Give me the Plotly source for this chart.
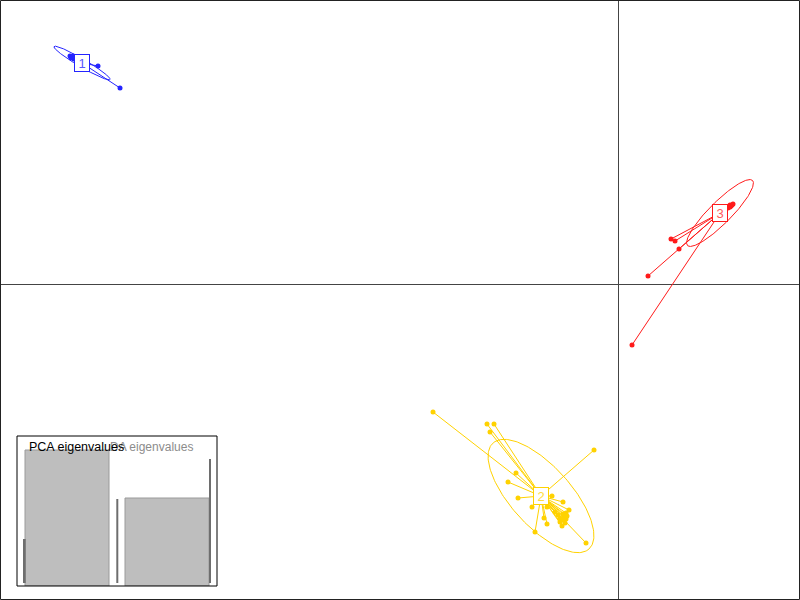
import numpy as np
import plotly.graph_objects as go

# ---- data (LD1, LD2) ----
groups = ["1", "2", "3"]
colors = ["#2424FF", "#FFD200", "#FF1A1A"]
label_colors = ["#5A5AFF", "#FFDC40", "#FF5A5A"]

centroid_x = [-10.72, -1.54, 2.04]
centroid_y = [4.42, -4.24, 1.42]

g1_x = [-10.96, -10.92, -10.88, -10.84, -10.94, -10.86, -10.80, -10.90, -10.40, -9.96]
g1_y = [4.56, 4.54, 4.50, 4.48, 4.52, 4.54, 4.46, 4.56, 4.36, 3.92]

g2_x = [-3.70, -2.62, -2.48, -2.56, -0.48, -2.04, -2.20, -2.00, -1.72, -1.32,
        -1.10, -0.98, -1.04, -1.48, -1.42, -1.12, -1.66, -0.64, -1.42, -1.20,
        -1.16, -1.12, -1.08, -1.04, -1.16, -1.06, -1.26, -1.02, -1.10]
g2_y = [-2.56, -2.80, -2.80, -2.96, -3.32, -3.78, -3.96, -4.28, -4.46, -4.24,
        -4.36, -4.52, -4.58, -4.68, -4.80, -4.84, -4.96, -5.18, -4.46, -4.62,
        -4.68, -4.72, -4.66, -4.70, -4.76, -4.78, -4.56, -4.64, -4.60]

g3_x = [2.24, 2.26, 2.22, 2.28, 2.20, 2.24, 2.30, 1.06, 1.14, 1.22, 0.60, 0.28]
g3_y = [1.58, 1.56, 1.54, 1.58, 1.52, 1.54, 1.60, 0.90, 0.86, 0.70, 0.16, -1.22]

# ellipse parameters: semi-major, semi-minor, angle (deg)
ell_a = [0.65, 1.43, 0.92]
ell_b = [0.08, 0.60, 0.22]
ell_angle = [-30.5, -47.8, 45.0]

# inset eigenvalues
da_eig = [272, 176]
pca_eig = [88, 168, 248]
pca_pos = [0.577, 1.503, 2.43]
pca_base = 6

pts_x = [g1_x, g2_x, g3_x]
pts_y = [g1_y, g2_y, g3_y]

fig = go.Figure()

t = np.linspace(0, 2 * np.pi, 200)
for i, g in enumerate(groups):
    cx, cy = centroid_x[i], centroid_y[i]
    # star lines
    lx, ly = [], []
    for px, py in zip(pts_x[i], pts_y[i]):
        lx += [cx, px, None]
        ly += [cy, py, None]
    fig.add_trace(go.Scatter(x=lx, y=ly, mode="lines",
                             line=dict(color=colors[i], width=1),
                             hoverinfo="skip", showlegend=False))
    # ellipse
    th = np.deg2rad(ell_angle[i])
    ex = cx + ell_a[i] * np.cos(t) * np.cos(th) - ell_b[i] * np.sin(t) * np.sin(th)
    ey = cy + ell_a[i] * np.cos(t) * np.sin(th) + ell_b[i] * np.sin(t) * np.cos(th)
    fig.add_trace(go.Scatter(x=ex, y=ey, mode="lines",
                             line=dict(color=colors[i], width=1),
                             hoverinfo="skip", showlegend=False))
    # points
    fig.add_trace(go.Scatter(x=pts_x[i], y=pts_y[i], mode="markers",
                             marker=dict(color=colors[i], size=5, line=dict(width=0)),
                             showlegend=False))
    fig.add_annotation(x=cx, y=cy, text=g, showarrow=False,
                       font=dict(color=label_colors[i], size=13, family="Liberation Sans"),
                       bgcolor="white", bordercolor=colors[i], borderwidth=1,
                       borderpad=1, width=12, height=14)

# inset: DA eigenvalue bars
fig.add_trace(go.Bar(x=[1, 2], y=da_eig, width=0.84, xaxis="x2", yaxis="y2",
                     marker=dict(color="#BEBEBE", line=dict(color="#9A9A9A", width=1)),
                     showlegend=False, hoverinfo="skip"))
fig.add_trace(go.Bar(x=pca_pos, y=pca_eig, base=pca_base, width=0.02,
                     xaxis="x2", yaxis="y2",
                     marker=dict(color="#6E6E6E", line=dict(width=0)),
                     showlegend=False, hoverinfo="skip"))

fig.update_layout(
    width=800, height=600,
    margin=dict(l=0, r=0, t=0, b=0),
    paper_bgcolor="white", plot_bgcolor="white",
    barmode="overlay",
    xaxis=dict(range=[-12.36, 3.64], showgrid=False, zeroline=True,
               zerolinecolor="#444444", zerolinewidth=1,
               showticklabels=False, ticks="", showline=False),
    yaxis=dict(range=[-6.32, 5.68], showgrid=False, zeroline=True,
               zerolinecolor="#444444", zerolinewidth=1,
               showticklabels=False, ticks="", showline=False),
    xaxis2=dict(domain=[17 / 800, 217 / 800], range=[0.5, 2.5], anchor="y2",
                showgrid=False, zeroline=False, showticklabels=False, ticks=""),
    yaxis2=dict(domain=[14 / 600, 164 / 600], range=[0, 300], anchor="x2",
                showgrid=False, zeroline=False, showticklabels=False, ticks=""),
    shapes=[
        dict(type="rect", xref="paper", yref="paper", x0=0.5 / 800, x1=799.5 / 800,
             y0=0.5 / 600, y1=599.5 / 600, line=dict(color="#222222", width=1)),
        dict(type="rect", xref="paper", yref="paper", x0=17 / 800, x1=217 / 800,
             y0=14 / 600, y1=164 / 600, line=dict(color="black", width=1),
             fillcolor="rgba(0,0,0,0)", layer="above"),
    ],
)

# inset white background
fig.add_shape(type="rect", xref="paper", yref="paper", x0=17 / 800, x1=217 / 800,
              y0=14 / 600, y1=164 / 600, fillcolor="white", line=dict(width=0),
              layer="below")

fig.add_annotation(xref="paper", yref="paper", x=108 / 800, y=(600 - 447) / 600,
                   text="DA eigenvalues", showarrow=False, xanchor="left", yanchor="middle",
                   font=dict(color="#8C8C8C", size=12, family="Liberation Sans"))
fig.add_annotation(xref="paper", yref="paper", x=27 / 800, y=(600 - 447) / 600,
                   text="PCA eigenvalues", showarrow=False, xanchor="left", yanchor="middle",
                   font=dict(color="black", size=12.5, family="Liberation Sans"))

fig.write_html("out.html")
